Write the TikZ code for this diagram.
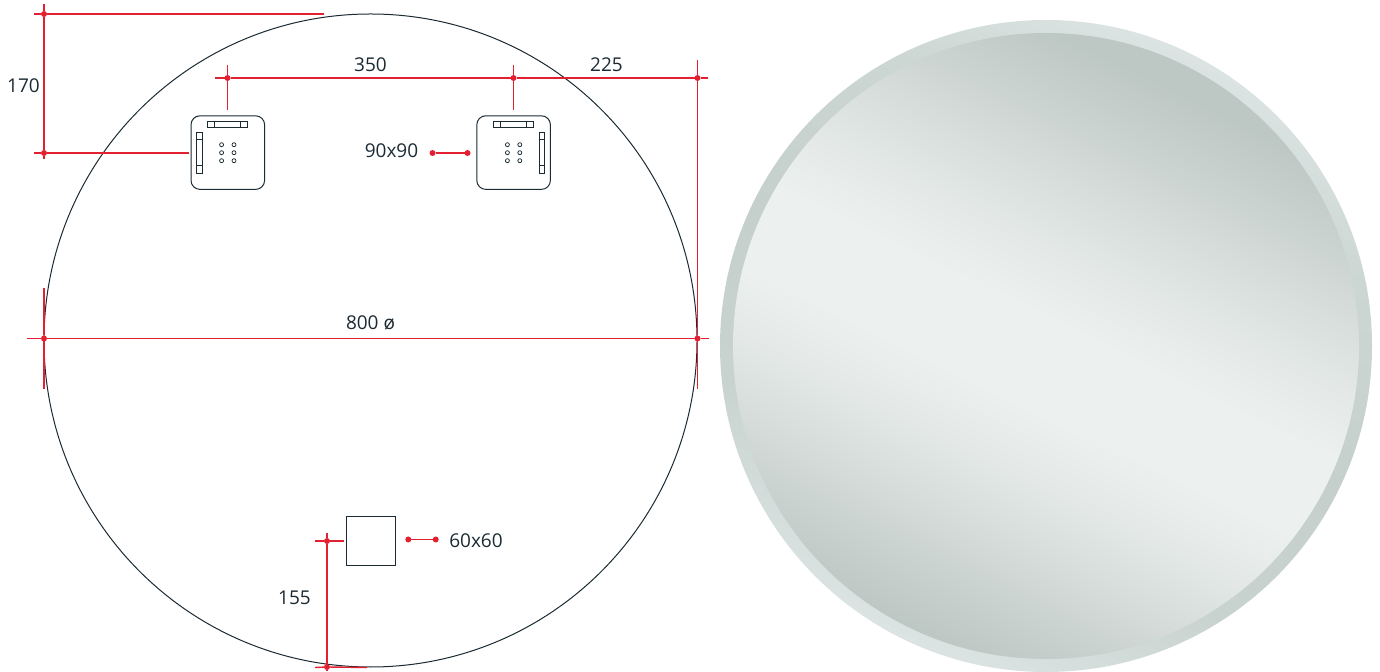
\documentclass[tikz,border=0pt]{standalone}
\usepackage{fontspec}
\setmainfont{Open Sans}
\definecolor{ink}{HTML}{1B2A33}
\definecolor{dimred}{HTML}{E2202F}
\definecolor{glassdark}{HTML}{BDC7C3}
\definecolor{glasslight}{HTML}{ECF0EF}
\definecolor{glassmidA}{HTML}{E4E9E8}
\definecolor{bevA}{HTML}{DBE4E2}
\definecolor{bevB}{HTML}{CCD6D3}
\definecolor{bevC}{HTML}{C5CFCC}
\definecolor{bevD}{HTML}{C8D2CF}
\pgfdeclareverticalshading{glassface}{100bp}{color(0bp)=(glassdark); color(25bp)=(glassdark); color(40bp)=(glassmidA); color(45bp)=(glasslight); color(52bp)=(glasslight); color(57bp)=(glassmidA); color(73bp)=(glassdark); color(100bp)=(glassdark)}
\pgfdeclareverticalshading{glassbevel}{100bp}{color(0bp)=(bevA); color(25bp)=(bevA); color(37bp)=(bevD); color(50bp)=(bevC); color(65bp)=(bevB); color(75bp)=(bevA); color(100bp)=(bevA)}
\tikzset{
  dimline/.style={draw=dimred,line width=0.7pt},
  reddot/.style={circle,fill=dimred,draw=none,inner sep=0pt,outer sep=0pt,minimum size=3pt},
  plate/.style={rectangle,draw=ink,line width=0.5pt,rounded corners=4.5pt,minimum size=36.8pt,inner sep=0pt,outer sep=0pt},
  hole/.style={circle,draw=ink,line width=0.38pt,inner sep=0pt,outer sep=0pt,minimum size=2pt},
  slot/.style={draw=ink,line width=0.5pt},
  dimtext/.style={text=ink,inner sep=0pt,font=\fontsize{9.5}{11}\selectfont},
  wallbox/.style={rectangle,draw=ink,line width=0.5pt,inner sep=0pt,outer sep=0pt,minimum size=24.6pt}
}
\begin{document}
\begin{tikzpicture}[x=0.5pt,y=-0.5pt]
\useasboundingbox (0,0) rectangle (1380,672);
% mirror
\shade[shading=glassbevel,shading angle=-26] (1046,346) circle [radius=326];
\shade[shading=glassface,shading angle=-26] (1046,346) circle [radius=313];
% drawing outline
\node[circle,draw=ink,line width=0.5pt,inner sep=0pt,outer sep=0pt,minimum size=326.5pt] (disc) at (370.5,340.5) {};
% mounting plates
\node[plate] (plA) at (227.8,152.6) {};
\node[plate] (plB) at (513.6,152.6) {};
\node[wallbox] (box) at (370.7,541) {};
\foreach \cx in {227.8,513.6}{
  \draw[slot] (\cx-20,121.8) rectangle (\cx+20,127.4);
  \draw[slot] (\cx-13,121.8) -- (\cx-13,127.4);
  \draw[slot] (\cx+13,121.8) -- (\cx+13,127.4);
  \foreach \hy in {144.7,152.7,160.7}{
    \node[hole] at (\cx-6.2,\hy) {};
    \node[hole] at (\cx+6.2,\hy) {};
  }
}
\foreach \bx in {199.5,542}{
  \draw[slot] (\bx-2.8,132.4) rectangle (\bx+2.8,173.4);
  \draw[slot] (\bx-2.8,140) -- (\bx+2.8,140);
  \draw[slot] (\bx-2.8,165.4) -- (\bx+2.8,165.4);
}
% dimension points
\node[reddot] (d1) at (44,14) {};
\node[reddot] (d2) at (44,153) {};
\node[reddot] (d3) at (227.5,78) {};
\node[reddot] (d4) at (513.5,78) {};
\node[reddot] (d5) at (697.5,78) {};
\node[reddot] (d6) at (44,338.5) {};
\node[reddot] (d7) at (697.5,338.5) {};
\node[reddot] (d8) at (432.5,153) {};
\node[reddot] (d9) at (467.5,153) {};
\node[reddot] (d10) at (408.3,539.5) {};
\node[reddot] (d11) at (435.7,539.5) {};
\node[reddot] (d12) at (327,541) {};
\node[reddot] (d13) at (327,667) {};
% free ends
\coordinate (e1a) at (34,14);    \coordinate (e1b) at (324,14);
\coordinate (e2a) at (44,4);     \coordinate (e2b) at (44,159);
\coordinate (e3a) at (34,153);   \coordinate (e3b) at (189,153);
\coordinate (e4a) at (215,78);   \coordinate (e4b) at (708,78);
\coordinate (e5a) at (227.5,65); \coordinate (e5b) at (227.5,110.5);
\coordinate (e6a) at (513.5,65); \coordinate (e6b) at (513.5,110.5);
\coordinate (e7a) at (697.5,60); \coordinate (e7b) at (697.5,389);
\coordinate (e8a) at (27,338.5); \coordinate (e8b) at (709,338.5);
\coordinate (e9a) at (44,288);   \coordinate (e9b) at (44,389);
\coordinate (e10a) at (327,533); \coordinate (e10b) at (327,671);
\coordinate (e11a) at (315,541); \coordinate (e11b) at (343.7,541);
\coordinate (e12a) at (315,667.5); \coordinate (e12b) at (367,667.5);
% dimension lines
\draw[dimline] (e1a) -- (d1) -- (e1b);
\draw[dimline] (e2a) -- (d1) -- (d2) -- (e2b);
\draw[dimline] (e3a) -- (d2) -- (e3b);
\draw[dimline] (e4a) -- (d3) -- (d4) -- (d5) -- (e4b);
\draw[dimline] (e5a) -- (d3) -- (e5b);
\draw[dimline] (e6a) -- (d4) -- (e6b);
\draw[dimline] (e7a) -- (d5) -- (d7) -- (e7b);
\draw[dimline] (e8a) -- (d6) -- (d7) -- (e8b);
\draw[dimline] (e9a) -- (d6) -- (e9b);
\draw[dimline] (d8) -- (d9);
\draw[dimline] (d10) -- (d11);
\draw[dimline] (e10a) -- (d12) -- (d13) -- (e10b);
\draw[dimline] (e11a) -- (d12) -- (e11b);
\draw[dimline] (e12a) -- (d13) -- (e12b);
% labels
\node[dimtext] (t170) at (23.5,85.5) {170};
\node[dimtext] (t350) at (370.5,64.5) {350};
\node[dimtext] (t225) at (606.5,64.5) {225};
\node[dimtext] (t90) at (391.5,150.5) {90x90};
\node[dimtext] (t800) at (370.5,322.5) {800 ø};
\node[dimtext] (t155) at (294.5,597.5) {155};
\node[dimtext] (t60) at (476,540.5) {60x60};
\end{tikzpicture}
\end{document}
